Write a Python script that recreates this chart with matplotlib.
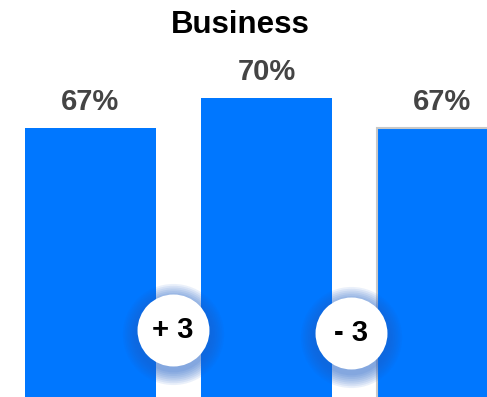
import matplotlib.pyplot as plt
from matplotlib.transforms import offset_copy

# data
title = "Business"
values = [67, 70, 67]
changes = ["+ 3", "- 3"]

bar_color = "#0077FF"
label_color = "#444444"

fig = plt.figure(figsize=(4.87, 3.97), dpi=100)
ax = fig.add_axes([0, 0, 1, 1])
ax.axis("off")

x = list(range(len(values)))
bars = ax.bar(x, values, width=0.744, color=bar_color, zorder=2)
# last bar looks selected: thin grey edge
bars[-1].set_edgecolor("#c8c8c8")
bars[-1].set_linewidth(1.5)

ax.set_xlim(-0.514, 2.253)
ax.set_ylim(40.1, 79.8)

for xi, v in zip(x, values):
    ax.annotate(f"{v}%", (xi, v), xytext=(0, 13), textcoords="offset points",
                ha="center", va="baseline", fontsize=21, fontweight="bold",
                color=label_color, family="Liberation Sans")

# change bubbles between bars
bubble_y = 46.8
shift = [-0.03, -0.02]
for i, txt in enumerate(changes):
    bx = i + 0.5 + shift[i]
    by = bubble_y - 0.3 * i
    # soft blue glow, a bit lower than the bubble
    glow = offset_copy(ax.transData, fig=fig, x=0, y=-4, units="dots")
    for k in range(8):
        s = (26 + 1.3 * (8 - k)) * 2
        ax.scatter([bx], [by], s=s ** 2, color="#1f5fc8", alpha=0.09,
                   linewidths=0, transform=glow, zorder=3)
    ax.scatter([bx], [by], s=51.8 ** 2, color="white", linewidths=0, zorder=4)
    ax.text(bx, by, txt, ha="center", va="center", fontsize=21,
            fontweight="bold", color="black", family="Liberation Sans", zorder=5)

fig.text(240 / 487, 1 - 33 / 397, title, ha="center", va="baseline",
         fontsize=22.5, fontweight="bold", color="black", family="Liberation Sans")

fig.savefig("out.png", dpi=100)
